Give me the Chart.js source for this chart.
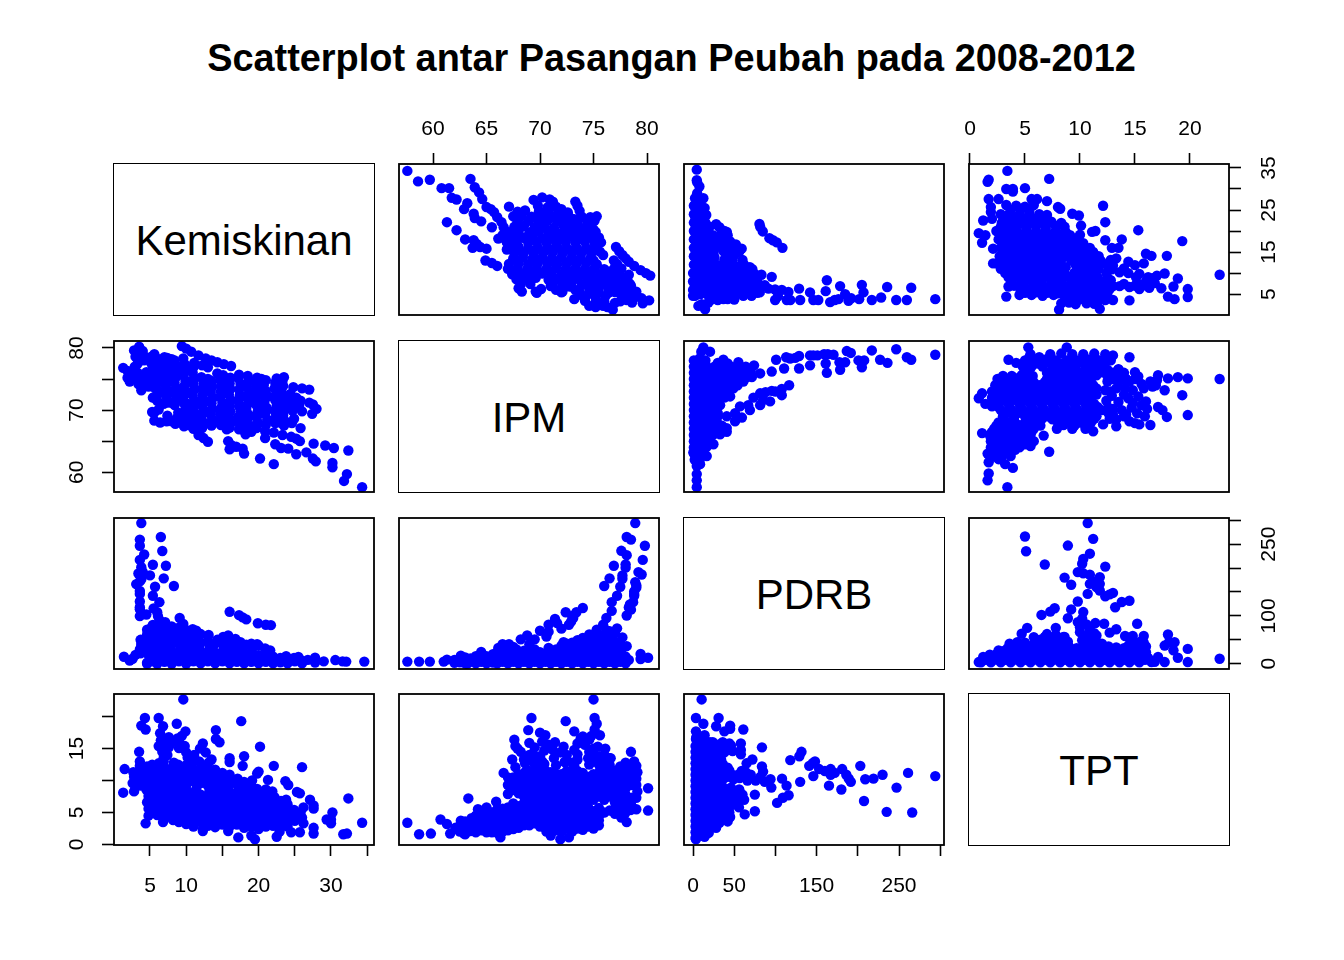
<!DOCTYPE html>
<html><head><meta charset="utf-8">
<style>
html,body{margin:0;padding:0;background:#fff;width:1344px;height:960px;overflow:hidden;font-family:"Liberation Sans",Arial,sans-serif}
canvas{position:absolute}
#title{position:absolute;left:0;width:1343px;top:36px;text-align:center;font-weight:bold;font-size:37.9px;line-height:44px;color:#000}
.diag{position:absolute;box-sizing:border-box;border:1.8px solid #000;display:flex;align-items:center;justify-content:center;font-size:42px;color:#000;padding-top:4px}
</style>
<script src="https://cdn.jsdelivr.net/npm/chart.js@4"></script>
</head><body>
<div id="title">Scatterplot antar Pasangan Peubah pada 2008-2012</div>
<script>
const varNames=["Kemiskinan","IPM","PDRB","TPT"];
const kemTicks=[5,10,15,20,25,30,35], ipmTicks=[60,65,70,75,80], pdrbTicks=[0,50,100,150,200,250,300], tptTicks=[0,5,10,15,20];
const kemBottomLabels=[5,10,20,30], kemRightLabels=[5,15,25,35];
const ipmTopLabels=[60,65,70,75,80], ipmLeftLabels=[60,70,80];
const pdrbBottomLabels=[0,50,150,250], pdrbRightLabels=[0,100,250];
const tptTopLabels=[0,5,10,15,20], tptLeftLabels=[0,5,15];

// [IPM, Kemiskinan]
const ipmKem=[[57.6,34.3],[58.6,31.8],[59.7,32.2],[60.8,30.2],[61.5,30.2],[61.75,27.9],[62.2,27.5],[63.2,26.6],[62.9,25.2],[63.8,24.1],[63.9,23.1],[64.5,22.3],[61.3,22.1],[62.2,20.2],[63,18],[63.8,17.8],[63.7,16],[64.4,16.2],[65,15.8],[64.9,13],[65.5,12.4],[66,11.7],[64.1,16.9],
[63.5,32.4],[63.9,30.4],[64.3,29.2],[64.6,27.6],[65,25.7],[65.4,25.2],[65.7,24.5],[66,23.3],[66.4,22.1],[66.6,20.9],[65.5,20.9],[66.1,18.2],[66.5,19],[66.9,15.6],[67.2,15.9],
[69.4,27.4],[70.2,28],[70.9,27.5],[71.2,27],[73.3,27],[73.5,26],[69.8,26],[70.7,25.6],[71.5,25.8],[72,25.2],[67.1,25.8],[73.7,24.8],
[67.5,23.5],[68.3,23.6],[69.2,23.4],[70.2,23.8],[71,23.6],[71.9,23.8],[72.8,23.2],[73.9,23.4],[74.7,23.3],[75.3,23.5],
[67.6,21],[68.5,21.2],[69.5,20.9],[70.4,21.1],[71.3,20.8],[72.2,21.3],[73.1,21],[74,20.7],[74.8,21],
[66.6,18.5],[67.5,18.7],[68.4,18.4],[69.3,18.6],[70.2,18.3],[71.1,18.6],[72,18.5],[72.9,18.7],[73.8,18.4],[74.7,18.6],[75.5,18.5],
[67.2,16],[68,16.2],[68.9,15.9],[69.8,16.1],[70.7,16],[71.6,16.2],[72.5,15.9],[73.4,16.1],[74.3,16],[75.2,16.1],[75.9,14.3],
[67.5,13.5],[68.4,13.7],[69.3,13.4],[70.2,13.6],[71.1,13.5],[72,13.7],[72.9,13.4],[73.8,13.6],[74.7,13.5],[76.9,13],
[67,11],[67.9,11.2],[68.8,10.9],[69.7,11.1],[70.6,11],[71.5,11.2],[72.4,10.9],[73.3,11.1],[74.2,11],[75.1,11.2],[76,10.9],[76.9,11],[77.6,11.1],
[67.8,8.5],[68.7,8.7],[69.6,8.9],[70.8,8.4],[71.7,8.6],[72.6,8.5],[73.5,8.7],[74.4,8.4],[75.3,8.6],[76.2,8.5],[77.1,8.7],[78,8.4],
[68,6.4],[68.3,5.6],[69.6,5.6],[70.1,6.2],[71,6.9],[71.9,5.8],[72.1,5.6],[72.8,6.8],[73.8,4.8],[74.6,6.3],[75.5,6.5],[76.4,6.2],[77.3,6.4],[78.2,6.2],
[74.3,4.5],[75.2,4.3],[76.1,4.5],[74.6,2.2],[75.2,1.9],[75.9,2.2],[76.8,1.3],[76.3,1.9],[78,4.2],[78.1,3.6],[78.8,4.1],[79.6,2.8],[79.5,4],[80.2,3.5],
[77.1,16.2],[77.4,15.2],[77.7,14.3],[78,13.5],[78.3,12.7],[78.8,11.7],[79.4,10.7],[79.9,10],[80.3,9.4],
[69.9,24.7],[70.8,24.5],[71.7,24.8],[72.6,24.4],[67.9,24.6],[68.6,24.9],
[67.9,22.3],[68.9,22.4],[69.9,22.2],[70.7,22.5],[71.6,22.3],[72.5,22.4],[73.5,22.2],[74.4,22.3],[75.1,22.5],
[67.1,19.7],[68,19.8],[69,19.6],[69.9,19.9],[70.8,19.7],[71.7,19.5],[72.6,19.8],[73.5,19.7],[74.4,19.6],[75.2,19.8],
[66.9,17.3],[67.8,17.4],[68.9,17.2],[69.7,17.5],[70.6,17.3],[71.5,17.2],[72.4,17.4],[73.3,17.3],[74.2,17.5],[75.1,17.2],[75.7,17.3],
[67.6,14.8],[68.5,14.9],[69.4,14.7],[70.3,14.8],[71.2,15],[72.1,14.7],[73,14.8],[73.9,14.9],[74.8,14.7],[75.6,15.1],
[67.1,12.2],[68,12.3],[68.9,12.1],[69.8,12.4],[70.7,12.2],[71.6,12.1],[72.5,12.3],[73.4,12.2],[74.3,12.4],[75.3,12.1],[77.2,12.2],
[67.4,9.7],[68.3,9.8],[69.2,9.6],[70.2,9.9],[71.1,9.7],[72,9.6],[72.9,9.8],[73.8,9.7],[74.7,9.9],[75.6,9.6],[76.5,9.7],[77.4,9.8],[78.3,9.6],
[68.2,7.3],[69.1,7.4],[71.2,7.5],[72.1,7.3],[73.9,7.2],[74.8,7.5],[75.7,7.3],[76.6,7.4],[77.5,7.2],[78.4,7.4],
[69.7,5.3],[72,5.4],[73.7,5.5],[74.6,5.2],[75.5,5.4],[76.4,5.3],[77,5.5],[78.6,5.2],
[68,23],[69.7,22.9],[71.4,23.1],[73.2,22.8],[67.9,20],[69.4,20.2],[70.9,20.1],[72.5,20.3],[74.2,20],[75,20.4],
[67.2,18],[68.8,18],[70.5,17.9],[72.2,18],[74,18],[67.8,15.5],[69.5,15.4],[71,15.5],[72.9,15.3],[74.6,15.5],
[67.9,13],[69.7,13],[71.4,12.9],[73.2,13],[75,13],[67.6,10.3],[69.2,10.4],[71,10.3],[72.8,10.4],[74.6,10.3],[76.4,10.3],
[68.2,8],[71.2,8],[73,8],[74.9,8],[76.7,8],[78.2,8],[71.5,6],[73.3,6],[75,6],[76.8,6],[77.8,6],
[76,7.8],[77.2,7.6],[78.5,7],[79,5.6],[77.5,5.2],[75.2,3.2],[77,2.9],[76,3.3],[73.2,3.8],[74.2,3.4],[77.5,3.3],[78.6,3],[72.8,7.6]];

// [PDRB, Kemiskinan]
const pdrbKem=[[4.5,34.6],[4.5,32.1],[5,31.6],[7.7,30.6],[5,29],[2.4,27.8],[12.5,27.8],[8,26.8],[1,26],[8,25.8],[14,25.5],[1,24],[9,24.2],[16,23.8],[1,22],[8,22.2],[15,22],[1,20],[9,20.3],[18,20],[28,21.6],[38,20],[41,19.8],
[1,18],[10,18.2],[20,18],[30,17.8],[40,18.3],[45,17.5],[1,16],[10,16.2],[20,16],[30,16.3],[40,16],[50,16],[59,15.8],[1,14],[10,14.2],[20,14],[26,13.8],[42,14],[50,14.3],[1,12],[10,12.2],[20,12],[32,11.8],[44,12],[55,11.5],[62,12],[69,11.4],
[0,10],[10,10.2],[20,10],[30,10.2],[40,10],[50,9.8],[60,10.2],[70,10],[76,9.6],[83,9.6],[0,8],[10,8.2],[20,8],[30,7.8],[40,8],[50,8.2],[60,8],[70,7.8],[78,8],[0,6],[9,6.2],[18,6],[27,6.2],[36,6],[45,6.1],[54,6.2],[63,5.9],[72,6],[0,4.6],[2.4,4.6],[9,5],[18,4.8],[36.8,3.8],[30,4.2],[45,4.6],[61,4.6],[71,4.6],[55,5.2],
[10.5,2.6],[14.6,1.4],[18.6,3],[6.5,2.2],[95.5,9.1],
[80.6,21.7],[84.6,19.9],[92.7,18.3],[101.6,17.3],[108.5,16],[81.5,21],[97,17.8],
[81,5.4],[91.5,6.3],[99.6,6.1],[107.7,6],[115.8,5.5],[128.7,6.3],[142,5.4],[99.6,3.6],[103,4.5],[113.8,3.6],[118,3.6],[130,3.6],[146,3.6],[152,3.6],[162.4,8.3],[161,5.7],[166.4,3.1],[178.5,6.9],[184.6,5],[176.5,3.8],[188.7,3.4],[204.9,7.2],[206.9,5.4],[201.6,3.8],[217,3.6],[228.3,4.2],[235.6,6.7],[246.6,3.6],[259.5,3.6],[264.8,6.5],[294,3.8],[172,3.6],[192,4],
[5,25],[12,24.9],[3,23],[5,23.1],[12,23],[4,21],[12,21.2],[20,21],[32,20.9],[4,19],[14,19.1],[24,19],[34,19.2],[42,19],[4,17],[15,17.1],[25,17],[35,17.2],[45,17],[52,16.8],
[5,15],[15,15.1],[25,15],[37,15.2],[46,15],[56,15.1],[5,13],[15,13.1],[25,13],[38,13.2],[48,13],[60,13.1],[5,11],[15,11.2],[25,11],[35,11.1],[45,11],[58,11.2],[65,11],[72,10.9],
[5,9],[15,9.1],[25,9],[35,9.2],[45,9],[55,9.1],[65,9],[75,8.9],[4,7],[13,7.1],[22,7],[32,7.2],[41,7],[50,7.1],[59,7],[68,7.2],[77,7],[87,7.1],
[5,5.3],[14,5.4],[24,5.3],[33,5.2],[42,5.4],[52,5.3],[60,5.4],[70,5.2],[78,5.3],[22,3.7],[30,3.6],[42,3.8],[50,3.7]];

// [TPT, Kemiskinan]
const tptKem=[[3.4,34.3],[1.7,32.2],[1.6,31.7],[7.2,32.4],[5,30.2],[3.3,30],[3.9,30],[3.9,29.4],[1.7,27.6],[2.6,27.6],[1.9,25.7],[5.6,27.6],[6.1,27.6],[7,27.1],[8,25.7],[8.2,25.3],[12.1,26],[9.3,24.1],[9.9,23.7],[10.1,21.3],[12.3,22.1],[11.1,19.8],[11.4,20],[15.3,20.2],[12.3,17.8],[13.8,18],[19.3,17.6],[12.9,16],[13.5,16],[16,14.6],[16.5,14.1],[17.9,14.1],[13.3,13.5],[14.4,12.7],[15,11.9],[15.8,12.3],[22.7,9.6],[18.9,8.7],[17.7,9.9],[17,9.4],[18.5,6.8],[19.8,6.2],[19.8,4.3],[18,4.4],[18.6,3.8],[17.4,6.4],[14.5,3.5],[13,3.6],[11.8,1.5],[8.1,1.3],[8.3,2.8],[3.3,4.4],[4.5,4.8],[3.5,6.8],
[0.8,19.5],[1.4,19],[1.1,17.2],[2.1,15.8],[1.2,22.5],[2,22.9],[2.1,12.3],[1.9,24.5],
[3.3,26.2],[4.2,26],[5,25.8],[5.8,26.2],[2.8,24],[3.6,24.2],[4.5,24],[5.4,24.1],[6.3,24],[7,23.8],[2.9,22],[3.8,22.2],[4.7,22],[5.6,22.1],[6.5,22],[7.4,22.2],[8.3,21.9],
[2.4,20],[3.3,20.2],[4.2,20],[5.1,20.1],[6,20],[6.9,20.2],[7.8,20],[8.7,19.8],[2.6,18],[3.5,18.2],[4.4,18],[5.3,18.1],[6.2,18],[7.1,18.2],[8,18],[8.9,18.1],[9.8,18],
[2.8,16],[3.7,16.2],[4.6,16],[5.5,16.1],[6.4,16],[7.3,16.2],[8.2,16],[9.1,15.8],[10,16],[10.9,16],[2.7,14],[3.6,14.2],[4.5,14],[5.4,14.1],[6.3,14],[7.2,14.2],[8.1,14],[9,14.1],[9.9,14],[10.8,14.2],[11.7,14],
[2.4,12.3],[3.3,12.2],[4.2,12],[5.1,12.1],[6,12],[6.9,12.2],[7.8,12],[8.7,11.4],[9.6,12],[10.5,12.2],[11.4,12],[12.4,12.1],[13,11.8],
[3.2,10],[4.1,10.2],[5,10],[5.9,10.1],[6.8,10],[7.7,10.2],[8.6,10],[9.5,10.1],[10.4,10],[11.3,10.2],[12.4,10],[13.6,10.2],[14.4,10],[15.4,9.8],[16.2,9],
[3.8,8.2],[4.7,8],[5.6,8.2],[6.5,8],[7.4,8.1],[8.3,8],[9.2,8.2],[10.1,8],[11,8.1],[11.9,8],[12.8,8.3],[14,7.4],[15.2,7.6],[16,8],[16.8,7.6],
[4.6,6],[5.5,6.2],[6.4,6],[7.3,6.2],[8.2,6],[9.1,6.1],[10,6],[10.9,6.2],[11.8,6],[12.7,6.2],[13.6,6.9],[14.5,6.7],[15.4,6.2],[16.3,6.5],
[5.6,4.8],[6.6,4.6],[7.6,4.8],[8.6,4.5],[9.5,4.6],[10.4,4.8],[11.3,4.5],[12.2,4.6],[9,3],[9.6,2.6],[10.6,2.8],[11.3,2.7],[12.3,3.6],
[3.7,25],[4.6,25.1],[5.4,24.9],[3.2,23],[4.1,23.1],[5,23],[5.9,22.9],[6.8,23.1],[2.8,21],[3.6,21.1],[4.2,21],[5.1,20.9],[6,21.1],[6.9,21],[7.8,21.2],[8.6,21],
[2.8,19],[3.7,19.1],[4.6,19],[5.5,18.9],[6.4,19.1],[7.3,19],[8.2,19.2],[9.1,19],[10,19.1],[3.1,17],[4,17.1],[4.9,17],[5.8,16.9],[6.7,17.1],[7.6,17],[8.5,17.2],[9.4,17],[10.3,17.1],
[3.1,15],[4,15.1],[4.9,15],[5.8,14.9],[6.7,15.1],[7.6,15],[8.5,15.2],[9.4,15],[10.3,15.1],[11.2,15],
[2.9,13],[3.8,13.1],[4.7,13],[5.6,12.9],[6.5,13.1],[7.4,13],[8.3,13.2],[9.2,13],[10.1,13.1],[11,13],[11.9,12.9],[12.8,13.1],
[2.8,11],[3.7,11.1],[4.6,11],[5.5,10.9],[6.4,11.1],[7.3,11],[8.2,11.2],[9.9,11],[10.8,11.1],[11.7,11],[12.9,10.9],[14,11.1],
[3.5,9],[4.4,9.1],[5.3,9],[6.2,8.9],[7.1,9.1],[8,9],[8.9,9.2],[9.8,9],[10.7,9.1],[11.6,9],[12.5,8.9],[15.1,9],[16.6,8.8],
[4,7],[4.9,7.1],[5.8,7],[6.7,6.9],[7.6,7.1],[8.5,7],[9.4,7.2],[10.3,7],[11.2,7.1],[12.1,7],[13,6.9],[15,7],[15.9,7.1],
[5,5.3],[6,5.4],[7,5.3],[8,5.2],[8.9,5.4],[9.8,5.3],[10.7,5.4],[11.6,5.2],[12.5,5.3],[9.2,3.7],[10,3.8],[10.9,3.6],[11.8,3.7]];

// [PDRB, IPM]
const pdrbIpm=[[12.5,80.1],[10,79.4],[20.6,79.4],[100.8,78.1],[113,78.5],[117.8,78.3],[128.7,78.7],[146,78.8],[151,78.8],[163.6,79],[170.5,78.9],[186.6,79.5],[191.5,79.2],[217,79.6],[246.6,79.8],[259.5,78.5],[264.8,78.1],[294,78.9],[142,78.8],[124,78.4],[159,79],
[95.5,76.2],[110.5,76.7],[128.7,76.7],[142,77.2],[161,77.5],[162.4,76],[177.7,77.7],[184.6,77.7],[178.5,76.5],[200.8,78],[207.7,78],[204.9,76.9],[227,78.1],[236,77.6],
[36.8,78.1],[55,77.7],[74,77.2],[81.4,75.9],[71.3,75.3],[61,74.6],[49,73.5],[45,72.2],[32.8,70.8],
[116.6,74],[107.7,73.4],[95.5,73.1],[81.4,72.7],[73.3,72],[107.7,72.4],[100,73],[88,72.9],[93.5,71.4],[85,71.6],[81.4,70.8],[67,70.8],[57,70.6],[69,70],[59.3,68.8],[51,69.5],[40.9,69],[51,68.2],[40.9,67.1],[40.9,66.5],[32.8,66.1],[24.7,64.5],[16.6,62.6],[8.5,61.3],
[4.5,57.6],[4.5,58.7],[4.5,59.7],[4.5,61],[0.4,63.2],[2.4,65.6],
[1,78],[8,78.3],[15,78],[1,77],[8,77],[16,77.1],[26,77],[33,77.3],[46,77],[64,77],[1,76],[8,76],[16,76.2],[24,76],[32,76],[40,76.1],[50,76],[60,76],[70,76.2],
[1,75],[8,75],[16,75],[24,75.1],[34,75],[44,75],[54,75],[64,75.2],[1,74],[8,74],[16,74.1],[26,74],[36,74],[46,74.2],[54,74],[1,73],[8,73],[16,73],[26,73.1],[36,73],[44,73],
[1,72],[8,72],[16,72],[26,72.1],[38,72],[1,71],[8,71],[16,71.1],[26,71],[1,70],[8,70],[16,70],[24,70],[1,69],[8,69],[16,69],[24,69],[30,69],[1,68],[8,68],[16,68.1],[24,68],[30,67.8],
[1,67],[8,67],[15,67],[26,67],[34,67.2],[1,66],[8,66],[16,66],[24,66],[1,65],[8,65],[16,65],[1,64],[8,64],[16,64],[1,63],[8,63],[13,63],[2,62],[8,62],
[4,77.5],[12,77.5],[30,77.6],[42,77.5],[4,76.5],[12,76.5],[20,76.6],[28,76.5],[36,76.5],[44,76.6],[56,76.5],[68,76.5],
[4,75.5],[12,75.5],[20,75.6],[28,75.5],[38,75.5],[48,75.6],[58,75.5],[4,74.5],[12,74.5],[20,74.6],[30,74.5],[40,74.5],[50,74.6],
[4,73.5],[12,73.5],[20,73.6],[30,73.5],[40,73.5],[4,72.5],[12,72.5],[20,72.6],[32,72.5],[42,72.5],[4,71.5],[12,71.5],[20,71.6],[30,71.5],
[4,70.5],[12,70.5],[20,70.6],[4,69.5],[12,69.5],[20,69.6],[30,69.5],[4,68.5],[12,68.5],[20,68.6],[27,68.5],[4,67.5],[12,67.5],[20,67.6],[28,67.5],[35,67.5],
[4,66.5],[12,66.5],[20,66.6],[30,66.5],[4,65.5],[12,65.5],[20,65.6],[4,64.5],[12,64.5],[19,64.6],[4,63.5],[11,63.5],[3,62.5],[9,62.5]];

// [TPT, IPM]
const tptIpm=[[5.3,80.1],[8.8,80.1],[3.5,78.1],[4.2,77.6],[14.5,78.5],[13,78.8],[15,76.1],[17.1,75.6],[18,75.1],[18.9,75.3],[19.8,75.1],[22.7,75],[19.3,72.4],[19.8,69.2],[17.1,70.5],[17.5,70],[17.9,68.9],[16.4,67.6],[15.4,67.7],[13.3,67.4],[17.7,73.2],[16.4,74.6],[15.8,73.5],[1.1,72.7],[0.8,71.9],[1.4,71],[2,70.6],[1.1,66.3],[6.7,65.9],[7.2,63.3],[1.7,59.8],[1.6,58.7],[3.4,57.6],[1.7,61.6],[1.7,62.9],[3.9,60.7],[3.2,61.3],[2.6,62.1],[7.9,67],[11.2,66.6],[12.1,67.7],[14.5,68.2],[14.4,71.9],[15.3,72.2],[16,71.4],[15.9,69],[13.3,73.5],[14.1,73.5],[12.3,73.2],[13.8,75.6],[15.3,75.4],[17,74.8],[16.1,70.2],[13.8,70],[14.7,70.4],[15.2,69.5],[13,69.3],
[5.5,79],[7.3,79],[8.3,79.1],[9.3,79],[10.3,79],[11.3,79.1],[12.3,79],[5,78],[5.8,78],[6.8,78.1],[7.8,78],[8.8,78],[9.8,78],[10.8,78.1],[11.8,78],[12.8,78],[4.8,77],[5.6,77],[6.6,77],[7.6,77],[8.6,77.1],[9.6,77],[10.6,77],[11.6,77],
[5,76],[7,76],[8,76.1],[9,76],[10,76],[11,76],[12,76.1],[13,76],[14,76],[2.5,75],[3.3,75],[4.2,75.1],[5.2,75],[7,75],[8,75],[9.2,75],[10,75.1],[11,75],[13,75],[14,75],
[2.3,74],[3.3,74],[4.3,74],[5.3,74.1],[6.3,74],[7.3,74],[8.3,74],[9,74.1],[10,74],[11.2,74],[2,73],[3,73],[4,73],[5,73],[6,73.1],[7,73],[8,73],[9,73],[10,73],[11,73],
[2,72],[3,72],[4,72],[5,72],[6,72],[7,72],[8,72],[9,72],[10,72],[11,72],[2.5,71],[3.5,71],[4.5,71],[5.5,71],[6.5,71],[7.5,71],[8.5,71],[9.5,71],[10.5,71],[11.3,71],
[2.8,70],[3.8,70],[4.8,70],[5.8,70],[6.8,70],[7.8,70],[8.8,70],[9.8,70],[10.8,70],[12,70],[13,70.2],[3,69],[4,69],[5,69],[6,69],[7,69],[8,69],[9,69],[10,69],[11,69],[11.5,69],[14,69],
[2.6,68],[3.5,68],[5,68],[6,68],[8,68],[9,68],[10,68],[11,68],[2.2,67],[3,67],[4,67],[5,67],[5.8,67],[9.3,67],[10.5,67],
[1.8,66],[2.6,66],[3.3,66],[4.5,66],[5.5,66],[1.9,65],[2.7,65],[3.5,65],[4.5,65],[5.8,65],[1.9,64],[2.7,64],[3.5,64],[4.5,64],[5.5,64.2],[1.6,63],[2.6,63],[3.6,63],
[5.4,78.5],[6.3,78.5],[7.3,78.6],[9.3,78.5],[10.3,78.5],[11.3,78.6],[12.5,78.5],[5.2,77.5],[6.2,77.5],[7.2,77.6],[8.2,77.5],[9.2,77.5],[10.2,77.6],[11.2,77.5],[12.2,77.5],
[5.3,76.5],[7.5,76.5],[8.5,76.6],[9.5,76.5],[10.5,76.5],[11.5,76.6],[12.5,76.5],[13.5,76.5],[3,75.5],[3.8,75.5],[4.7,75.6],[5.7,75.5],[7.5,75.5],[8.5,75.6],[9.6,75.5],[10.5,75.5],[11.5,75.6],[12.5,75.5],[13.5,75.5],
[2.8,74.5],[3.8,74.5],[4.8,74.6],[5.8,74.5],[6.8,74.5],[7.8,74.6],[8.6,74.5],[9.6,74.5],[10.6,74.6],[13.5,74.5],
[2.5,73.5],[3.5,73.5],[4.5,73.6],[5.5,73.5],[6.5,73.5],[7.5,73.6],[8.5,73.5],[9.5,73.5],[10.5,73.6],[11.5,73.5],
[2.5,72.5],[3.5,72.5],[4.5,72.6],[5.5,72.5],[6.5,72.5],[7.5,72.6],[8.5,72.5],[9.5,72.5],[10.5,72.6],[11.5,72.5],
[2.2,71.5],[3.2,71.5],[4.2,71.6],[5.2,71.5],[6.2,71.5],[7.2,71.6],[8.2,71.5],[9.2,71.5],[10.2,71.6],[11,71.5],
[2.6,70.5],[3.6,70.5],[4.6,70.6],[5.6,70.5],[6.6,70.5],[7.6,70.6],[8.6,70.5],[9.6,70.5],[10.6,70.6],[11.6,70.5],
[3.3,69.5],[4.3,69.5],[5.3,69.6],[6.3,69.5],[7.3,69.5],[8.3,69.6],[9.3,69.5],[10.3,69.5],[11.3,69.6],[12.6,69.5],
[3,68.5],[4,68.5],[5.5,68.6],[6.5,68.5],[7.5,68.5],[8.5,68.6],[9.5,68.5],[10.5,68.5],[11.3,68.6],[13.3,68.5],
[2.4,67.5],[3.2,67.5],[4.4,67.6],[5.4,67.5],[6.4,67.5],[8.5,67.6],[9.5,67.5],[10.5,67.5],
[2,66.5],[2.8,66.5],[3.7,66.6],[4.8,66.5],[5.6,66.5],[1.9,65.5],[2.8,65.5],[3.8,65.6],[5,65.5],[2.2,64.5],[3,64.5],[4,64.6],[5,64.5],[2.1,63.5],[3.1,63.5],[4.1,63.6],[2,62.5],[2.9,62.5],[3.7,62.6],
[13.5,76.6],[14.2,75],[12.5,74.6],[12.8,73],[14.8,71.2],[12.4,71.5],[13.5,71.3],[12.9,72.3],[14,72.5],[15,75],[14.5,74.6],[12.7,68.6],[14.2,69.3],[12.6,70.4],[15,67.9],[15.6,70.8],[16.6,73.8],[14.8,73.2],[16.9,74],[15.6,74.2]];

// [TPT, PDRB]
const tptPdrb=[[10.7,294],[11.2,261],[5,266],[5.1,235],[8.9,247],[10.9,230],[10.3,219],[10.2,209],[6.8,207.5],[12.3,203],[9.8,191.5],[10.3,189],[10.9,186],[11.8,181],[8.6,180],[9.2,165],[10.9,167],[11.8,167],[11.8,153],[13,148],[12.3,141],[12.7,145],[10.7,146],[9.8,130],[13.2,118],[13.8,129],[14.5,131.6],[7.7,116],[7.3,109],[6.5,102],[8.9,95],[9.2,113.5],[10.3,108],[11.4,85],[12.2,83.6],[15.2,83.6],[7.8,75],[5.2,75],[4.7,62.7],[12.7,65],[13.3,72],[14.1,58],[14.8,58],[15.8,58],[18,61],[18.6,45],[17.7,38],[19.8,31],[18.5,28],[18.9,12.5],[19.8,3.5],[22.7,10.4],[17.7,3.5],[17.1,14],[16.5,3.5],[5.8,55.7],[11.2,172],[11.5,160],[18.1,45],
[9.8,87],[10,66],[10.2,49],[10.9,70],[11.5,59],[12,42],[10.2,94],[10.6,82],[10,76],[11.3,64],
[0.8,3.5],[1.2,14],[1.8,19],[2.6,28],[3.6,42],[4.3,45],[1,3],[1.9,3],[2.8,3],[3.7,3],[4.6,3],[5.5,3],[6.4,3],[7.3,3],[8.2,3],[9.1,3],[10,3],[10.9,3],[11.8,3],[12.7,3],[13.6,3],[14.5,3],[15.4,3],[16.8,4],
[2.1,14],[3,14],[3.9,14],[4.8,14],[5.7,14],[6.6,14],[7.5,14],[8.4,14],[9.3,14],[10.2,14],[11.1,14],[12,14],[12.9,14],[13.8,14],[14.7,14],[15.6,14],[16.2,12],
[3,26],[3.9,26],[4.8,26],[5.7,26],[6.6,26],[7.5,26],[8.4,26],[9.3,26],[10.2,26],[11.1,26],[12,26],[12.9,26],[13.8,26],[14.7,26],[15.6,26],[16,24],
[3.9,38],[4.8,38],[5.7,38],[6.6,38],[7.5,38],[8.4,38],[9,36],[10.4,38],[11.3,38],[12.6,36],[13.3,34],[14.4,38],[15.2,38],[16,36],
[6.4,50],[7.3,50],[8.2,50],[8.9,46],[10.8,50],[14.6,48],[15.5,46],[7,62],[7.8,60],[8.5,56],
[1.4,8],[2.3,8.5],[3.2,8],[4.1,8.5],[5,8],[5.9,8.5],[6.8,8],[7.7,8.5],[8.6,8],[9.5,8.5],[10.4,8],[11.3,8.5],[12.2,8],[13.1,8.5],[14,8],[14.9,8.5],[15.9,8],
[2.4,20],[3.3,20.5],[4.2,20],[5.1,20.5],[6,20],[6.9,20.5],[7.8,20],[8.7,20.5],[9.6,20],[10.5,20.5],[11.4,20],[12.3,20.5],[13.2,20],[14.1,20.5],[15,20],[16,20.5],
[3.4,32],[4.3,32.5],[5.2,32],[6.1,32.5],[7,32],[7.9,32.5],[8.8,32],[9.7,32.5],[10.6,32],[11.5,32.5],[12.7,32],[14,32.5],[14.9,32],[15.7,32.5],
[5,44],[5.9,44.5],[6.8,44],[7.7,44.5],[8.6,44],[10.6,44.5],[11.6,44],[14.9,44.5],[15.8,44],[6.8,56],[7.7,56.5],[8.6,56],[10.4,56.5],[11,56]];

const M=70, panelW=260, panelH=151;
const colLeft=[114,399,684,969], rowTop=[164,341,518,694];
const kemRange=[0.03,35.94], ipmRange=[56.82,81.12], pdrbRange=[-11,304.6], tptRange=[-0.09,23.55];
const ranges={kem:kemRange,ipm:ipmRange,pdrb:pdrbRange,tpt:tptRange};
const ticksOf={kem:kemTicks,ipm:ipmTicks,pdrb:pdrbTicks,tpt:tptTicks};
const FONT='"Liberation Sans",Arial,sans-serif';

const boxPlugin={id:'box',afterDraw(c){const a=c.chartArea,x=c.ctx;x.save();x.strokeStyle='#000';x.lineWidth=1.8;x.strokeRect(a.left,a.top,a.right-a.left,a.bottom-a.top);x.restore();}};

function scaleOpts(key,pos,labels){
  const horiz=pos==='top'||pos==='bottom';
  const r=ranges[key];
  if(!pos) return {type:'linear',min:r[0],max:r[1],display:false};
  let pad={top:11,bottom:18,left:13,right:17}[pos];
  if(pos==='right'&&key==='pdrb') pad=11;
  return {type:'linear',min:r[0],max:r[1],position:pos,
    afterBuildTicks:s=>{s.ticks=ticksOf[key].map(v=>({value:v}));},
    afterFit:s=>{if(horiz)s.height=M;else s.width=M;},
    grid:{drawOnChartArea:false,drawTicks:true,tickLength:horiz?11:12,tickColor:'#000',tickWidth:1.6},
    border:{display:false},
    ticks:Object.assign({autoSkip:false,color:'#000',font:{family:FONT,size:21},
      padding:pad,
      callback:v=>labels.includes(v)?String(v):''},
      horiz?{minRotation:0,maxRotation:0}:{minRotation:90,maxRotation:90,crossAlign:'center'})};
}
function panel(col,row,pairs,swap,xKey,yKey,xPos,xLabels,yPos,yLabels){
  const cv=document.createElement('canvas');
  cv.width=panelW+2*M;cv.height=panelH+2*M;
  cv.style.left=(colLeft[col]-M)+'px';cv.style.top=(rowTop[row]-M)+'px';
  cv.style.width=cv.width+'px';cv.style.height=cv.height+'px';
  document.body.appendChild(cv);
  const pts=pairs.map(p=>swap?{x:p[1],y:p[0]}:{x:p[0],y:p[1]});
  new Chart(cv,{type:'scatter',
    data:{datasets:[{label:varNames.join('/'),data:pts,backgroundColor:'#0000ff',borderColor:'#0000ff',pointRadius:5.2,pointBorderWidth:0,clip:false}]},
    options:{responsive:false,animation:false,devicePixelRatio:1,
      layout:{autoPadding:false,padding:{left:yPos==='left'?0:M,right:yPos==='right'?0:M,top:xPos==='top'?0:M,bottom:xPos==='bottom'?0:M}},
      plugins:{legend:{display:false},tooltip:{enabled:false},title:{display:false}},
      scales:{x:scaleOpts(xKey,xPos,xLabels),y:scaleOpts(yKey,yPos,yLabels)}},
    plugins:[boxPlugin]});
}
varNames.forEach((n,i)=>{const d=document.createElement('div');d.className='diag';d.textContent=n;
  d.style.left=(colLeft[i]-0.9)+'px';d.style.top=(rowTop[i]-0.9)+'px';d.style.width=(panelW+1.8)+'px';d.style.height=(panelH+1.8)+'px';document.body.appendChild(d);});
panel(1,0,ipmKem,false,'ipm','kem','top',ipmTopLabels,null,[]);
panel(2,0,pdrbKem,false,'pdrb','kem',null,[],null,[]);
panel(3,0,tptKem,false,'tpt','kem','top',tptTopLabels,'right',kemRightLabels);
panel(0,1,ipmKem,true,'kem','ipm',null,[],'left',ipmLeftLabels);
panel(2,1,pdrbIpm,false,'pdrb','ipm',null,[],null,[]);
panel(3,1,tptIpm,false,'tpt','ipm',null,[],null,[]);
panel(0,2,pdrbKem,true,'kem','pdrb',null,[],null,[]);
panel(1,2,pdrbIpm,true,'ipm','pdrb',null,[],null,[]);
panel(3,2,tptPdrb,false,'tpt','pdrb',null,[],'right',pdrbRightLabels);
panel(0,3,tptKem,true,'kem','tpt','bottom',kemBottomLabels,'left',tptLeftLabels);
panel(1,3,tptIpm,true,'ipm','tpt',null,[],null,[]);
panel(2,3,tptPdrb,true,'pdrb','tpt','bottom',pdrbBottomLabels,null,[]);
</script>
</body></html>
